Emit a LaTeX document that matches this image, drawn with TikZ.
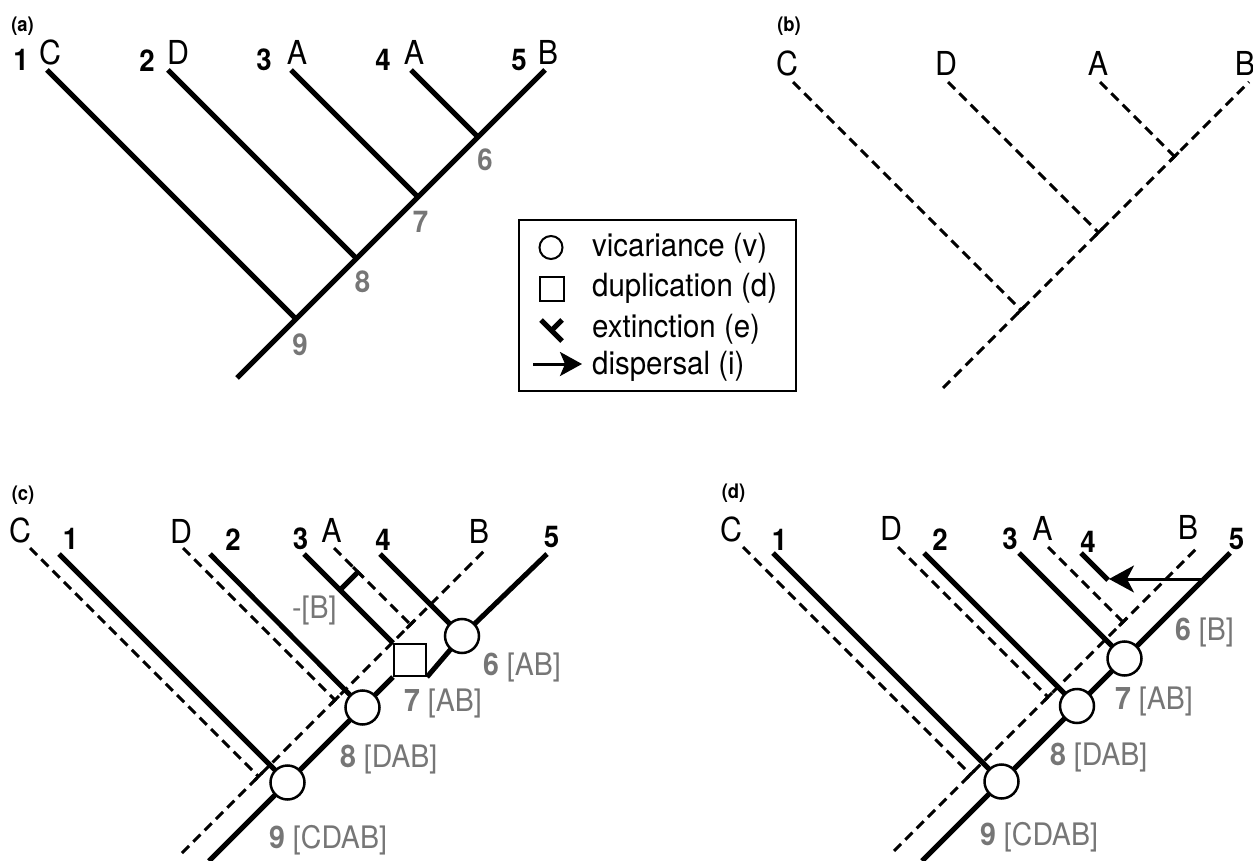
\documentclass[tikz,border=0pt]{standalone}
\usepackage{fontspec}
\setmainfont{TeX Gyre Heros}[FakeStretch=0.92]
\usetikzlibrary{arrows.meta}
\definecolor{lbl}{RGB}{118,118,118}
\begin{document}
\begin{tikzpicture}[x=1pt,y=-1pt,
  br/.style={line width=5pt},
  dsh/.style={line width=3pt, dash pattern=on 10pt off 6pt},
  jbar/.style={line width=3pt},
  vic/.style={circle, draw, line width=2.5pt, fill=white, minimum size=34pt, inner sep=0pt},
  dup/.style={rectangle, draw, line width=2.5pt, fill=white, minimum size=32pt, inner sep=0pt},
  leaf/.style={font=\fontsize{33}{38}\selectfont, inner sep=0pt},
  num/.style={font=\fontsize{30}{35}\selectfont\bfseries, inner sep=0pt},
  gnum/.style={num, text=lbl},
  area/.style={font=\fontsize{31}{36}\selectfont, text=lbl, inner sep=0pt, anchor=base west},
  plab/.style={font=\fontsize{20}{23}\selectfont\bfseries, inner sep=0pt},
  legtext/.style={font=\fontsize{32}{37}\selectfont, inner sep=0pt, anchor=base west},
  arr/.style={line width=3pt},
]
\useasboundingbox (0,0) rectangle (1253,861);

% ---------------- panel (a) ----------------
\coordinate (aR) at (237,378);
\coordinate (aB) at (545,70);
\coordinate (a9) at (296,319);
\coordinate (a8) at (356.5,258.5);
\coordinate (a7) at (418,197);
\coordinate (a6) at (478,137);
\coordinate (aC) at (47,70);
\coordinate (aD) at (168,70);
\coordinate (aA3) at (291,70);
\coordinate (aA4) at (411,70);
\draw[br] (aR) -- (aB);
\draw[br] (aC) -- (a9);
\draw[br] (aD) -- (a8);
\draw[br] (aA3) -- (a7);
\draw[br] (aA4) -- (a6);
\node[plab] (pa) at (22.5,26.5) {(a)};
\node[num] (an1) at (21,60) {1};
\node[leaf] (aLC) at (50,52) {C};
\node[num] (an2) at (147,60.5) {2};
\node[leaf] (aLD) at (178,52) {D};
\node[num] (an3) at (264,60) {3};
\node[leaf] (aLA3) at (297,52) {A};
\node[num] (an4) at (383,60) {4};
\node[leaf] (aLA4) at (414,52) {A};
\node[num] (an5) at (519,60) {5};
\node[leaf] (aLB) at (548,52) {B};
\node[gnum] (an6) at (485,160) {6};
\node[gnum] (an7) at (420.5,222) {7};
\node[gnum] (an8) at (362.5,282) {8};
\node[gnum] (an9) at (300,345) {9};

% ---------------- legend ----------------
\node[draw, line width=2pt, minimum width=277pt, minimum height=171pt, inner sep=0pt] (legbox) at (657.5,305.5) {};
\node[vic, minimum size=23pt, line width=2pt] (lv) at (551,247.5) {};
\node[dup, minimum size=24pt, line width=2pt] (ld) at (552,289) {};
\coordinate (lx1) at (541,320);
\coordinate (lx2) at (562,341);
\coordinate (lxm) at (551.5,330.5);
\coordinate (lxt) at (562,320);
\draw[line width=5pt] (lx1) -- (lx2);
\draw[line width=5pt] (lxm) -- (lxt);
\coordinate (la1) at (533,364);
\coordinate (la2) at (582,364);
\draw[arr, -{Stealth[length=22pt,width=24pt,inset=5pt]}] (la1) -- (la2);
\node[legtext] (lt1) at (592,256) {vicariance (v)};
\node[legtext] (lt2) at (592,296.5) {duplication (d)};
\node[legtext] (lt3) at (592,337) {extinction (e)};
\node[legtext] (lt4) at (592,374) {dispersal (i)};

% ---------------- panel (b) ----------------
\coordinate (bR) at (943,388);
\coordinate (bB) at (1249,82);
\coordinate (bC) at (793,82);
\coordinate (bD) at (948,82);
\coordinate (bA) at (1100,82);
\coordinate (bj9) at (1021,310);
\coordinate (bj8) at (1098.5,232.5);
\coordinate (bj7) at (1174.5,156.5);
\draw[dsh] (bR) -- (bB);
\draw[dsh] (bC) -- (bj9);
\draw[dsh] (bD) -- (bj8);
\draw[dsh] (bA) -- (bj7);
\draw[jbar] (bj9) ++(-4,4) -- ++(8,-8);
\draw[jbar] (bj8) ++(-4,4) -- ++(8,-8);
\draw[jbar] (bj7) ++(-4,4) -- ++(8,-8);
\node[plab] (pb) at (789,26.5) {(b)};
\node[leaf] (bLC) at (787,63) {C};
\node[leaf] (bLD) at (946,63) {D};
\node[leaf] (bLA) at (1098,63) {A};
\node[leaf] (bLB) at (1245,63) {B};

% ---------------- panel (c) ----------------
% dashed (area) tree
\coordinate (cdR) at (182,853);
\coordinate (cdB) at (487,548);
\coordinate (cdC) at (30,548);
\coordinate (cdD) at (183,548);
\coordinate (cdA) at (334,548);
\coordinate (cj9) at (258.5,776.5);
\coordinate (cj8) at (335,700);
\coordinate (cj7) at (410.5,624.5);
\draw[dsh] (cdR) -- (cdB);
\draw[dsh] (cdC) -- (cj9);
\draw[dsh] (cdD) -- (cj8);
\draw[dsh] (cdA) -- (cj7);
\draw[jbar] (cj9) ++(-4,4) -- ++(8,-8);
\draw[jbar] (cj8) ++(-4,4) -- ++(8,-8);
\draw[jbar] (cj7) ++(-4,4) -- ++(8,-8);
% solid (gene) tree
\coordinate (cR) at (209,861);
\coordinate (c9) at (287.5,782.5);
\coordinate (c8) at (362.5,707.5);
\coordinate (c7) at (410,660);
\coordinate (c7bl) at (393,677);
\coordinate (c7br) at (427,677);
\coordinate (c7tl) at (393,643);
\coordinate (c6) at (462,636);
\coordinate (c5) at (547,554);
\coordinate (c1) at (59,554);
\coordinate (c2) at (210,554);
\coordinate (c3) at (304,554);
\coordinate (c4) at (380,554);
\coordinate (cx1) at (340,590);
\coordinate (cx2) at (358,572);
\draw[br] (cR) -- (c9) -- (c8) -- (c7bl);
\draw[br] (c7br) -- (c6) -- (c5);
\draw[br] (c1) -- (c9);
\draw[br] (c2) -- (c8);
\draw[br] (c3) -- (c7tl);
\draw[br] (c4) -- (c6);
\draw[br] (cx1) -- (cx2);
\draw[jbar] (cx2) ++(-5,-5) -- ++(10,10);
\node[vic] (c9v) at (c9) {};
\node[vic] (c8v) at (c8) {};
\node[dup] (c7d) at (c7) {};
\node[vic] (c6v) at (c6) {};
\node[plab] (pc) at (23,495) {(c)};
\node[leaf] (cLC) at (20,530) {C};
\node[num] (cn1) at (70.5,538.5) {1};
\node[leaf] (cLD) at (181,531.5) {D};
\node[num] (cn2) at (233,540) {2};
\node[num] (cn3) at (300.5,538.5) {3};
\node[leaf] (cLA) at (331.5,530) {A};
\node[num] (cn4) at (383,540) {4};
\node[leaf] (cLB) at (479,531.5) {B};
\node[num] (cn5) at (551.5,537) {5};
\node[area] (cext) at (292,618.5) {-[B]};
\node[area] (ca6) at (483,675.5) {\textbf{6} [AB]};
\node[area] (ca7) at (404,711.5) {\textbf{7} [AB]};
\node[area] (ca8) at (340,767.5) {\textbf{8} [DAB]};
\node[area] (ca9) at (269,848.5) {\textbf{9} [CDAB]};

% ---------------- panel (d) ----------------
\coordinate (ddR) at (894,851);
\coordinate (ddB) at (1198,547);
\coordinate (ddC) at (743,547);
\coordinate (ddD) at (898,547);
\coordinate (ddA) at (1048,547);
\coordinate (dj9) at (970.5,774.5);
\coordinate (dj8) at (1048,697);
\coordinate (dj7) at (1123,622);
\draw[dsh] (ddR) -- (ddB);
\draw[dsh] (ddC) -- (dj9);
\draw[dsh] (ddD) -- (dj8);
\draw[dsh] (ddA) -- (dj7);
\draw[jbar] (dj9) ++(-4,4) -- ++(8,-8);
\draw[jbar] (dj8) ++(-4,4) -- ++(8,-8);
\draw[jbar] (dj7) ++(-4,4) -- ++(8,-8);
\coordinate (dR) at (922,861);
\coordinate (d5) at (1230,553);
\coordinate (d9) at (1001.5,781.5);
\coordinate (d8) at (1077,706);
\coordinate (d7) at (1124.5,658.5);
\coordinate (d1) at (773,553);
\coordinate (d2) at (924,553);
\coordinate (d3) at (1019,553);
\coordinate (d4) at (1081,553);
\coordinate (d4e) at (1108,580);
\coordinate (dAs) at (1204,579);
\coordinate (dAe) at (1109,579);
\draw[br] (dR) -- (d5);
\draw[br] (d1) -- (d9);
\draw[br] (d2) -- (d8);
\draw[br] (d3) -- (d7);
\draw[br] (d4) -- (d4e);
\draw[arr, -{Stealth[length=25pt,width=27pt,inset=7pt]}] (dAs) -- (dAe);
\node[vic] (d9v) at (d9) {};
\node[vic] (d8v) at (d8) {};
\node[vic] (d7v) at (d7) {};
\node[plab] (pd) at (733.5,493.5) {(d)};
\node[leaf] (dLC) at (731,529.5) {C};
\node[num] (dn1) at (779.5,540) {1};
\node[leaf] (dLD) at (891,528.5) {D};
\node[num] (dn2) at (940,540) {2};
\node[num] (dn3) at (1010,538.5) {3};
\node[leaf] (dLA) at (1042.5,528.5) {A};
\node[num] (dn4) at (1088,541.5) {4};
\node[leaf] (dLB) at (1188,527) {B};
\node[num] (dn5) at (1236.5,538.5) {5};
\node[area] (da6) at (1175,640.5) {\textbf{6} [B]};
\node[area] (da7) at (1115,709.5) {\textbf{7} [AB]};
\node[area] (da8) at (1050,765.5) {\textbf{8} [DAB]};
\node[area] (da9) at (980,845) {\textbf{9} [CDAB]};
\end{tikzpicture}
\end{document}
